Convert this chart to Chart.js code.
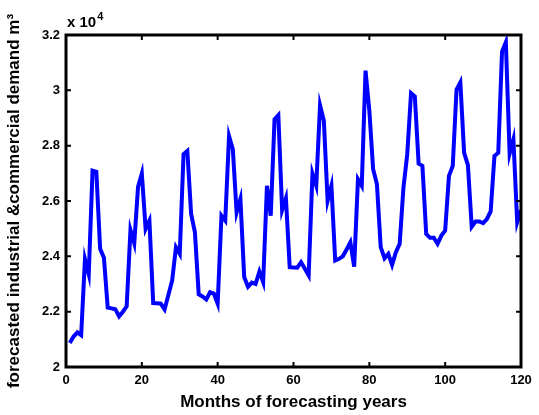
<!DOCTYPE html>
<html>
<head>
<meta charset="utf-8">
<script src="https://cdn.jsdelivr.net/npm/chart.js@4.4.1/dist/chart.umd.min.js"></script>
<style>
  html, body { margin: 0; padding: 0; background: #fff; }
  #wrap { width: 539px; height: 415px; }
</style>
</head>
<body>
<div id="wrap"><canvas id="demandChart" width="539" height="415"></canvas></div>
<script>
// forecasted monthly industrial & commercial demand (m^3), months 1..120
const demand = [
  20870, 21100, 21250, 21150, 23900, 23350, 27100, 27060, 24270, 23950, 22150, 22120,
  22090, 21830, 22000, 22190, 24950, 24470, 26510, 26990, 24990, 25290, 22310, 22300,
  22290, 22080, 22600, 23130, 24330, 24090, 27690, 27810, 25530, 24870, 22630, 22550,
  22440, 22700, 22650, 22290, 25470, 25290, 28350, 27870, 25590, 26070, 23250, 22900,
  23050, 23000, 23450, 23070, 26550, 25470, 28950, 29100, 25670, 26100, 23610, 23600,
  23590, 23790, 23550, 23310, 26990, 26550, 29460, 28910, 26010, 26550, 23850, 23910,
  24000, 24250, 24510, 23630, 26790, 26550, 30710, 29270, 27150, 26610, 24330, 23930,
  24090, 23690, 24150, 24450, 26490, 27690, 29900, 29780, 27350, 27270, 24810, 24670,
  24670, 24450, 24750, 24930, 26910, 27270, 30030, 30290, 27740, 27300, 25070, 25260,
  25260, 25200, 25350, 25620, 27630, 27740, 31400, 31740, 27710, 28230, 25230, 25670
];
const xTicks = [0, 20, 40, 60, 80, 100, 120];
const yTicks = [20000, 22000, 24000, 26000, 28000, 30000, 32000];
const yTickLabels = ['2', '2.2', '2.4', '2.6', '2.8', '3', '3.2'];

const points = demand.map((v, i) => ({ x: i + 1, y: v }));
const FONT = 'Liberation Sans, Arial, Helvetica, sans-serif';

// MATLAB-style box: full frame, inward ticks, "x 10^4" exponent
const boxPlugin = {
  id: 'box',
  afterDraw(chart) {
    const { ctx, chartArea: a, scales: { x, y } } = chart;
    ctx.save();
    ctx.strokeStyle = '#000';
    ctx.lineWidth = 2;
    ctx.beginPath();
    xTicks.forEach(v => {
      const px = x.getPixelForValue(v);
      ctx.moveTo(px, a.bottom); ctx.lineTo(px, a.bottom - 5);
      ctx.moveTo(px, a.top); ctx.lineTo(px, a.top + 5);
    });
    yTicks.forEach(v => {
      const py = y.getPixelForValue(v);
      ctx.moveTo(a.left, py); ctx.lineTo(a.left + 5, py);
      ctx.moveTo(a.right, py); ctx.lineTo(a.right - 5, py);
    });
    ctx.stroke();
    ctx.lineWidth = 3;
    ctx.strokeRect(a.left, a.top, a.width, a.height);

    ctx.fillStyle = '#000';
    ctx.textBaseline = 'alphabetic';
    ctx.font = 'bold 15px ' + FONT;
    ctx.fillText('x 10', a.left + 1, a.top - 8);
    const w = ctx.measureText('x 10').width;
    ctx.font = 'bold 11px ' + FONT;
    ctx.fillText('4', a.left + 2 + w, a.top - 15);
    ctx.restore();
  }
};

new Chart(document.getElementById('demandChart'), {
  type: 'line',
  data: {
    datasets: [{
      data: points,
      borderColor: '#0000ff',
      borderWidth: 4,
      pointRadius: 0,
      tension: 0,
      fill: false
    }]
  },
  options: {
    responsive: false,
    animation: false,
    layout: { padding: { left: 0, top: 35, right: 18, bottom: 0 } },
    plugins: { legend: { display: false }, tooltip: { enabled: false } },
    scales: {
      x: {
        type: 'linear',
        min: 0,
        max: 120,
        afterFit: s => { s.height = 48; },
        afterBuildTicks: s => { s.ticks = xTicks.map(v => ({ value: v })); },
        grid: { display: false, drawTicks: false },
        border: { display: false },
        ticks: { color: '#000', padding: 6, maxRotation: 0, font: { family: FONT, size: 13, weight: 'bold' } },
        title: {
          display: true,
          text: 'Months of forecasting years',
          color: '#000',
          padding: { top: 0, bottom: 2 },
          font: { family: FONT, size: 17, weight: 'bold' }
        }
      },
      y: {
        min: 20000,
        max: 32000,
        afterFit: s => { s.width = 66; },
        afterBuildTicks: s => { s.ticks = yTicks.map(v => ({ value: v })); },
        grid: { display: false, drawTicks: false },
        border: { display: false },
        ticks: {
          color: '#000',
          padding: 6,
          font: { family: FONT, size: 13, weight: 'bold' },
          callback: v => yTickLabels[yTicks.indexOf(v)]
        },
        title: {
          display: true,
          text: 'forecasted industrial &commercial demand m³',
          color: '#000',
          padding: { top: 4, bottom: 0 },
          font: { family: FONT, size: 17, weight: 'bold' }
        }
      }
    }
  },
  plugins: [boxPlugin]
});
</script>
</body>
</html>
